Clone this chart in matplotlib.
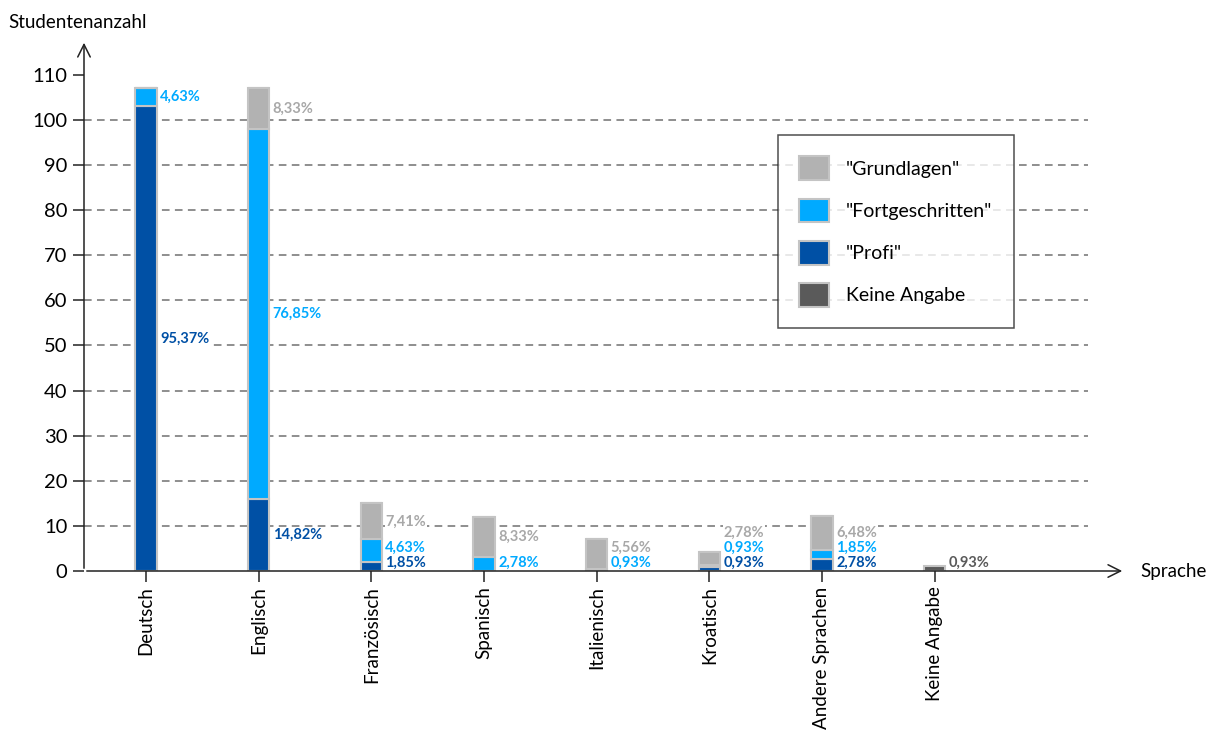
import matplotlib.pyplot as plt
from matplotlib.patches import Patch

plt.rcParams['font.family'] = ['Lato', 'DejaVu Sans']

sprachen = ["Deutsch", "Englisch", "Französisch", "Spanisch", "Italienisch",
            "Kroatisch", "Andere Sprachen", "Keine Angabe"]

# Studentenanzahl je Niveau (aus dem Bild geschaetzt)
profi = [103, 16, 2, 0, 0, 0.8, 2.7, 0]
fortgeschritten = [4, 82, 5, 3, 0.5, 0.5, 2, 0]
grundlagen = [0, 9, 8, 9, 6.5, 2.9, 7.5, 0]
keine_angabe = [0, 0, 0, 0, 0, 0, 0, 1]

# Prozentangaben (None = keine Beschriftung)
pct_profi = ["95,37%", "14,82%", "1,85%", None, None, "0,93%", "2,78%", None]
pct_fort = ["4,63%", "76,85%", "4,63%", "2,78%", "0,93%", "0,93%", "1,85%", None]
pct_grund = [None, "8,33%", "7,41%", "8,33%", "5,56%", "2,78%", "6,48%", None]
pct_keine = [None, None, None, None, None, None, None, "0,93%"]

c_grund = "#b2b2b2"
c_fort = "#00aaff"
c_profi = "#0050a5"
c_keine = "#5a5a5a"
edge = "#c4c4c4"

fig = plt.figure(figsize=(12.21, 7.33), dpi=100)
ax = fig.add_axes([84 / 1221, 162 / 733, (1125 - 84) / 1221, (571 - 40) / 733])
x = list(range(len(sprachen)))
w = 0.19

ax.set_xlim(-0.55, 8.69)
ax.set_ylim(0, 117.7)

for y in range(10, 101, 10):
    ax.hlines(y, -0.55, 8.36, colors="#707070", linestyles=(0, (5, 3.5)), linewidth=1.1, zorder=0)

series = [(profi, c_profi, pct_profi), (fortgeschritten, c_fort, pct_fort),
          (grundlagen, c_grund, pct_grund), (keine_angabe, c_keine, pct_keine)]
bottom = [0] * len(x)
label_y = [None] * len(x)
for vals, col, pcts in series:
    ax.bar(x, vals, w, bottom=bottom, color=col, edgecolor=edge, linewidth=1.5, zorder=2)
    for i in x:
        if pcts[i] is None:
            continue
        mid = bottom[i] + vals[i] / 2
        y = max(mid, 1.8) if label_y[i] is None else max(mid, label_y[i] + 3.3)
        label_y[i] = y
        ax.text(i + w / 2 + 0.03, y, pcts[i], color=col if col != c_grund else "#a8a8a8",
                fontsize=10.5, fontweight="bold", va="center", ha="left", zorder=3,
                bbox=dict(facecolor="white", edgecolor="none", pad=0.5))
    bottom = [b + v for b, v in zip(bottom, vals)]

for s in ax.spines.values():
    s.set_visible(False)

ax.annotate("", xy=(0, 1), xytext=(0, 0), xycoords="axes fraction",
            arrowprops=dict(arrowstyle="->,head_length=0.9,head_width=0.45", color="#222222", lw=1.1))
ax.annotate("", xy=(1, 0), xytext=(0, 0), xycoords="axes fraction",
            arrowprops=dict(arrowstyle="->,head_length=0.9,head_width=0.45", color="#222222", lw=1.1))

ax.set_yticks(range(0, 111, 10))
ax.set_xticks(x)
ax.set_xticklabels(sprachen, rotation=90, fontsize=13.5)
ax.tick_params(axis="y", labelsize=14.5, length=8, width=1.1, color="#222222", pad=4)
ax.tick_params(axis="x", length=8, width=1.1, color="#222222", pad=3, direction="out")

fig.text(8 / 1221, 1 - 22 / 733, "Studentenanzahl", fontsize=13.5, va="center", ha="left")
fig.text(1140 / 1221, 1 - 572 / 733, "Sprache", fontsize=13.5, va="center", ha="left")

handles = [Patch(facecolor=c_grund, edgecolor=edge, linewidth=1.5),
           Patch(facecolor=c_fort, edgecolor=edge, linewidth=1.5),
           Patch(facecolor=c_profi, edgecolor=edge, linewidth=1.5),
           Patch(facecolor=c_keine, edgecolor=edge, linewidth=1.5)]
leg = fig.legend(handles, ['"Grundlagen"', '"Fortgeschritten"', '"Profi"', "Keine Angabe"],
                 loc="upper left", bbox_to_anchor=(778 / 1221, 1 - 135 / 733),
                 fontsize=14, frameon=True, fancybox=False, edgecolor="#222222",
                 handlelength=1.5, handleheight=1.5, labelspacing=0.95,
                 borderpad=1.1, handletextpad=0.9, borderaxespad=0)
leg.get_frame().set_linewidth(1.1)

fig.savefig("out.png", dpi=100)
